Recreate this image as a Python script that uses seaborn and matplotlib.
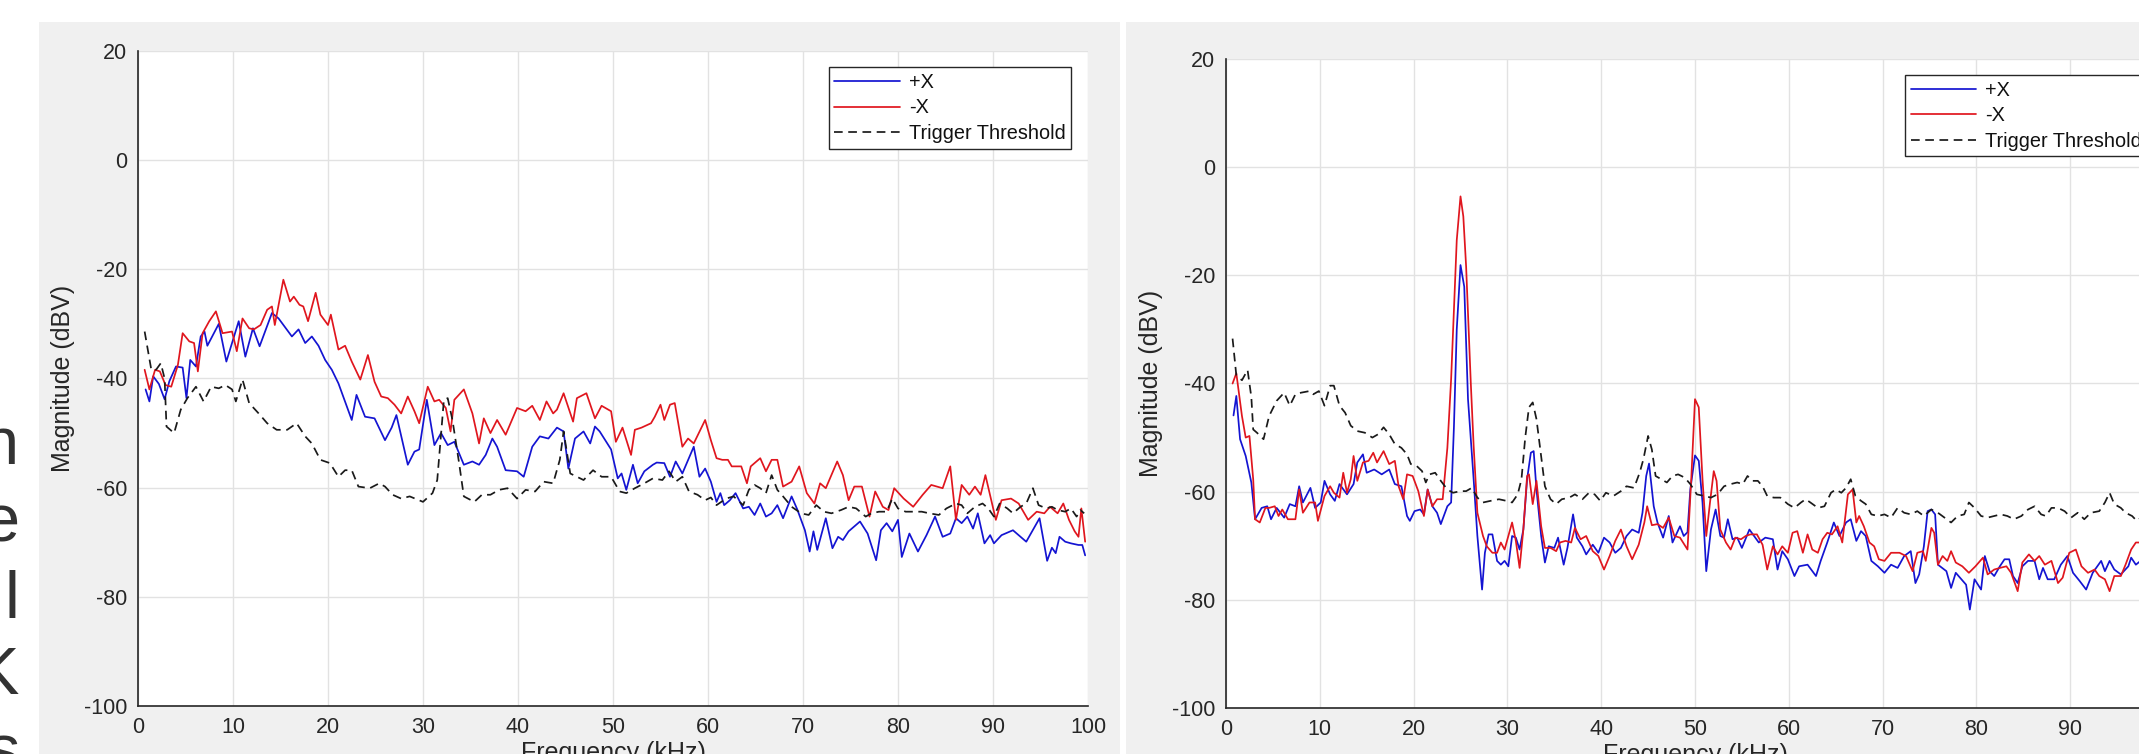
import numpy as np
import matplotlib
matplotlib.use("Agg")
import matplotlib.pyplot as plt
from matplotlib.patches import Rectangle
import seaborn as sns

# ================================
# DATA
# ================================
# left panel
a_pos_f = [0.8, 1.2, 1.6, 2.2, 2.8, 3.3, 4.0, 4.7, 5.1, 5.5, 6.1, 6.6, 7.0, 7.3, 8.5, 9.3, 10.6, 11.3, 12.1, 12.8,
           14.1, 14.8, 16.2, 16.9, 17.6, 18.3, 19.0, 19.7, 20.4, 21.1, 22.5, 23.0, 23.9, 24.9, 26.0, 26.7, 27.2, 28.4,
           29.1, 29.6, 30.4, 31.2, 31.9, 32.6, 33.3, 34.3, 35.2, 35.9, 36.6, 37.3, 37.8, 38.7, 39.9, 40.6, 41.5, 42.3,
           43.2, 44.1, 44.8, 45.3, 46.0, 46.9, 47.6, 48.1, 48.6, 49.8, 50.5, 50.9, 51.4, 52.1, 52.6, 53.3, 54.2, 54.6,
           55.4, 56.0, 56.6, 57.3, 58.5, 59.1, 59.7, 60.3, 60.9, 61.3, 61.7, 62.3, 62.9, 63.7, 64.3, 64.9, 65.5, 66.1,
           66.7, 67.3, 67.9, 68.8, 69.4, 70.2, 70.7, 71.1, 71.5, 72.4, 73.1, 73.7, 74.2, 74.8, 76.0, 76.8, 77.7, 78.2,
           78.8, 79.4, 80.0, 80.4, 81.2, 82.1, 83.0, 83.9, 84.7, 85.5, 86.1, 86.7, 87.3, 87.9, 88.4, 89.1, 89.7, 90.1,
           90.9, 92.1, 93.5, 94.9, 95.7, 96.2, 96.6, 97.0, 97.6, 98.2, 99.0, 99.4, 99.7]
a_pos_db = [-42, -44.2, -39.6, -41, -43.8, -40.5, -37.8, -38, -43.6, -36.6, -37.8, -32.3, -31.4, -34, -30, -36.9, -29.5,
            -36, -30.8, -34.1, -28, -29, -32.3, -31, -33.5, -32.3, -34, -36.6, -38.4, -40.9, -47.6, -43, -47, -47.3,
            -51.3, -49, -46.7, -55.8, -53.4, -53, -43.9, -52.2, -50, -52.2, -51.6, -55.8, -55.2, -55.8, -54, -51, -52.5,
            -56.8, -57, -58, -52.5, -50.6, -51, -49, -49.7, -56.5, -51, -49.7, -51.9, -48.8, -49.7, -53, -58.3, -57.4,
            -60.4, -55.8, -59.2, -57, -55.8, -55.4, -55.5, -58, -55.2, -57.4, -52.5, -58, -56.5, -58.9, -62.6, -61,
            -63.2, -62.3, -61, -63.8, -63.5, -65, -62.9, -65.3, -64.7, -63.2, -65.6, -61.6, -64, -67.8, -71.7, -68,
            -71.4, -65.6, -71.1, -69, -69.6, -68, -66.2, -68.4, -73.3, -67.8, -66.5, -68, -65.9, -72.7, -68.4, -71.7,
            -68.7, -65.3, -69, -68.4, -65.6, -66.5, -65.3, -67.5, -64.7, -70.2, -68.7, -70.2, -68.7, -67.8, -69.9,
            -65.6, -73.4, -71, -72, -69, -69.9, -70.2, -70.5, -70.5, -72.4]

a_neg_f = [0.7, 1.2, 1.8, 2.3, 2.9, 3.5, 4.2, 4.7, 5.4, 5.9, 6.3, 6.8, 7.5, 8.2, 8.9, 9.9, 10.4, 11.0, 11.7, 12.2, 12.9,
           13.6, 14.1, 14.4, 15.3, 16.0, 16.4, 17.0, 17.4, 17.9, 18.7, 19.2, 20.0, 20.3, 21.1, 21.8, 22.5, 23.4, 24.2,
           24.9, 25.6, 26.3, 27.0, 27.7, 28.4, 29.1, 29.6, 30.5, 31.2, 31.7, 32.4, 32.9, 33.3, 34.3, 35.2, 35.9, 36.4,
           37.1, 37.8, 38.7, 39.9, 40.8, 41.5, 42.3, 43.0, 43.7, 44.1, 44.8, 45.8, 46.2, 47.2, 48.1, 48.8, 49.8, 50.3,
           51.0, 51.9, 52.3, 53.0, 54.0, 54.4, 55.0, 55.4, 56.0, 56.5, 57.3, 57.9, 58.5, 59.7, 60.3, 60.9, 61.5, 62.1,
           62.5, 63.5, 64.1, 64.5, 65.5, 66.1, 66.7, 67.3, 67.9, 68.8, 69.6, 70.4, 71.2, 71.8, 72.4, 73.6, 74.2, 74.8,
           75.4, 76.2, 77.0, 77.6, 78.4, 79.0, 79.6, 80.6, 81.6, 82.6, 83.5, 84.7, 85.5, 86.1, 86.7, 87.5, 88.1, 88.7,
           89.2, 90.3, 90.9, 91.9, 92.7, 93.7, 94.6, 95.4, 96.0, 96.8, 97.4, 98.0, 98.6, 99.0, 99.3, 99.7]
a_neg_db = [-38.4, -42, -38.4, -38.7, -41.2, -41.5, -37.5, -31.7, -33.2, -33.5, -38.7, -31.7, -29.5, -27.7, -31.7,
            -31.4, -35, -29, -30.8, -31, -30.2, -27.4, -26.8, -30.2, -21.9, -25.9, -25, -26.5, -26.8, -29.5, -24.3,
            -28.3, -30.2, -28.3, -34.7, -34, -36.9, -40.2, -35.7, -40.6, -43.3, -43.6, -44.8, -46.4, -43.3, -46, -48.2,
            -41.5, -44.2, -43.9, -45.4, -49.7, -43.9, -42, -46.4, -51.9, -47.3, -50, -47.6, -50.3, -45.4, -46, -45,
            -47.6, -44.2, -46.4, -45.7, -42.7, -47.9, -43.6, -42.7, -47.3, -45, -46, -51.6, -49, -54, -49.4, -49, -48.2,
            -47, -44.8, -47.6, -44.8, -44.5, -52.5, -51, -51.9, -47.6, -51.3, -54.6, -54.9, -54.9, -56.1, -56.1,
            -59.2, -56.1, -54.6, -57, -54.9, -54.9, -59.8, -58.9, -56.1, -61, -62.9, -59.2, -60.1, -55.2, -57.7,
            -62.3, -59.8, -59.8, -65.3, -60.7, -63.5, -64.1, -60.1, -62, -63.5, -61.3, -59.5, -60.1, -56.1, -65.9,
            -59.5, -61.3, -59.8, -61.3, -57.7, -65.9, -62.3, -62, -62.9, -65.9, -64.4, -64.7, -63.5, -64.7, -62.9,
            -65.9, -68, -69, -63.8, -69.9]

a_thr_f = [0.7, 1.4, 1.9, 2.4, 2.8, 3.0, 3.8, 4.5, 5.2, 6.1, 6.9, 7.7, 8.5, 9.2, 9.9, 10.3, 11.0, 11.7, 12.7, 13.6, 14.6,
           15.7, 16.7, 17.6, 18.3, 19.2, 20.2, 21.1, 21.8, 22.5, 23.2, 24.4, 25.4, 26.0, 26.8, 27.7, 28.6, 29.6, 30.0,
           31.0, 31.5, 32.2, 32.6, 33.1, 33.8, 34.3, 35.4, 36.2, 37.1, 38.0, 38.9, 39.9, 40.8, 41.8, 42.7, 43.7, 44.4,
           44.8, 45.5, 46.2, 46.9, 47.9, 48.8, 49.8, 50.7, 51.4, 52.3, 53.3, 54.2, 55.2, 55.9, 56.6, 57.3, 58.0, 58.9,
           59.7, 60.3, 60.9, 61.9, 62.7, 63.7, 64.3, 64.9, 65.5, 66.1, 66.7, 67.3, 67.9, 68.8, 69.8, 70.6, 71.4, 72.2,
           73.0, 74.0, 74.8, 75.6, 76.6, 77.2, 78.0, 78.8, 79.4, 80.0, 80.8, 81.6, 82.5, 83.3, 84.3, 85.1, 86.1, 86.7,
           87.3, 88.1, 88.9, 89.5, 90.1, 90.7, 91.5, 92.1, 92.9, 93.5, 94.2, 94.8, 95.6, 96.2, 96.8, 97.6, 98.2, 98.8,
           99.2, 99.6]
a_thr_db = [-31.4, -38.4, -38.4, -37.2, -40, -48.8, -50, -45.7, -43.6, -41.5, -44.2, -41.5, -41.8, -41.2, -42, -44.2,
            -40.2, -44.5, -46.4, -48.2, -49.4, -49.4, -48.2, -50.6, -51.9, -54.9, -55.5, -58, -56.8, -56.8, -59.8,
            -60.1, -59.2, -59.8, -61.3, -62, -61.6, -62.3, -62.6, -61, -58.6, -43.9, -43.6, -47.6, -55.5, -61.6, -62.6,
            -61.3, -61.3, -60.4, -60.1, -62, -60.4, -60.7, -58.9, -59.2, -54.9, -49.7, -57.4, -58, -58.6, -56.8, -58,
            -58, -60.7, -61, -60.1, -59.2, -58.3, -58.6, -57, -58.9, -58, -60.7, -61.3, -62.3, -61.8, -63.2, -62,
            -61.6, -63.2, -60.4, -59.5, -60.1, -61, -57.7, -60.4, -61.6, -63.5, -64.7, -65, -63.2, -64.4, -64.7,
            -64.1, -63.5, -63.8, -65.3, -64.7, -64.4, -64.4, -62, -63.8, -64.4, -64.4, -64.4, -64.7, -65, -63.8,
            -62.9, -63.2, -64.7, -63.5, -62.9, -63.8, -65.3, -62.9, -63.8, -64.7, -63.5, -62.9, -60.1, -63.2, -63.8,
            -63.5, -64.1, -64.4, -63.8, -65.3, -64.1, -64.7]

# right panel
b_pos_f = [0.8, 1.1, 1.5, 2.1, 2.7, 3.1, 3.8, 4.4, 4.8, 5.4, 5.8, 6.2, 6.8, 7.4, 7.8, 8.2, 9.0, 9.5, 10.1, 10.5, 11.1,
           11.6, 12.1, 12.9, 13.6, 14.0, 14.6, 15.0, 15.8, 16.6, 17.4, 18.0, 18.7, 19.3, 19.6, 20.1, 20.7, 21.1, 21.5,
           22.0, 22.5, 22.9, 23.6, 24.0, 24.3, 24.6, 25.0, 25.4, 25.8, 26.4, 26.8, 27.3, 27.6, 28.0, 28.4, 28.9, 29.3,
           29.7, 30.1, 30.5, 30.9, 31.3, 31.7, 32.1, 32.5, 32.8, 33.1, 33.6, 34.0, 34.4, 35.0, 35.4, 36.0, 36.4, 37.0,
           37.4, 38.0, 38.4, 39.1, 39.7, 40.3, 40.9, 41.5, 42.1, 42.7, 43.3, 44.0, 44.4, 44.8, 45.1, 45.6, 46.0, 46.6,
           47.2, 47.6, 48.4, 48.8, 49.2, 49.5, 50.0, 50.4, 50.8, 51.2, 51.7, 52.2, 52.7, 53.1, 53.5, 54.0, 54.5, 55.0,
           55.8, 56.3, 56.8, 57.5, 58.3, 58.8, 59.3, 59.9, 60.6, 61.1, 62.0, 62.9, 63.4, 64.1, 64.8, 65.4, 66.1, 66.6,
           67.2, 67.7, 68.2, 68.8, 69.5, 70.2, 70.9, 71.6, 72.3, 73.0, 73.5, 73.9, 74.4, 74.8, 75.2, 75.6, 75.9, 76.8,
           77.3, 77.8, 78.4, 78.9, 79.3, 79.8, 80.5, 80.9, 81.4, 81.9, 82.5, 83.0, 83.5, 83.9, 84.4, 84.9, 85.5, 86.2,
           86.7, 87.1, 87.6, 88.3, 89.0, 89.7, 90.3, 91.0, 91.7, 92.4, 93.3, 93.7, 94.2, 94.7, 95.4, 96.2, 96.5, 97.0,
           97.5, 98.2, 99.0, 99.7]
b_pos_db = [-45.9, -42.3, -50.3, -53.4, -58.3, -65.1, -63, -62.7, -65.1, -63, -63.9, -64.8, -62.3, -62.7, -59, -62,
            -59.3, -63, -62, -58, -60.5, -61.7, -58.6, -60.5, -58.6, -54.6, -53.1, -56.5, -55.9, -56.8, -55.9, -58.6,
            -59, -64.5, -65.4, -63.6, -63.3, -64.2, -59.6, -62.7, -63.9, -66, -62.7, -62, -48, -30, -18.1, -22.1, -42.9,
            -57.7, -68.2, -78.1, -71.3, -67.9, -67.9, -72.8, -73.5, -72.8, -73.8, -68.2, -68.5, -70.7, -67, -57.7,
            -52.8, -52.5, -59.6, -68.2, -73.1, -70.1, -70.4, -68.5, -73.5, -70.4, -64.2, -68.5, -70.1, -71.6, -69.8,
            -71.3, -68.5, -69.4, -71.3, -70.4, -68.2, -67, -67.6, -63.9, -57.1, -54.8, -62.7, -65.7, -68.5, -64.5,
            -69.4, -66.4, -68.2, -67.5, -59.6, -53.3, -54.3, -62, -74.7, -67, -63.3, -68.2, -68.5, -65.1, -68.8, -68.5,
            -70.4, -67, -68.2, -69.4, -68.5, -68.8, -74.4, -71, -72.5, -75.6, -73.8, -73.5, -75.6, -72.8, -69.4, -65.7,
            -68.2, -65.7, -65.1, -69.1, -67.3, -68.2, -72.8, -73.8, -75, -73.5, -74.1, -71.9, -71, -76.9, -75.3, -70.1,
            -63.6, -63.3, -64.2, -73.5, -74.7, -77.8, -75, -76.2, -77.2, -81.8, -76.2, -78.1, -71.9, -74.7, -75.6,
            -73.8, -72.5, -72.5, -75.6, -76.9, -73.8, -72.8, -72.8, -76.2, -74.1, -76.2, -76.2, -73.5, -71.9, -75,
            -76.5, -78.1, -75, -72.8, -74.7, -72.8, -74.4, -75.3, -73.8, -72.2, -73.5, -72.8, -73, -72.5, -73]

b_neg_f = [0.7, 1.1, 1.4, 1.7, 2.1, 2.5, 2.9, 3.1, 3.6, 4.2, 4.6, 5.2, 5.6, 6.0, 6.6, 7.4, 7.8, 8.2, 8.9, 9.5, 9.8, 10.5,
           11.1, 11.5, 12.1, 12.5, 12.9, 13.3, 13.6, 14.0, 14.6, 15.2, 15.7, 16.1, 16.8, 17.4, 18.0, 18.4, 18.9, 19.3,
           19.9, 20.5, 21.1, 21.5, 22.0, 22.5, 23.1, 23.6, 24.0, 24.6, 25.0, 25.3, 25.6, 26.1, 26.4, 26.8, 27.4, 27.8,
           28.4, 28.9, 29.3, 29.7, 30.1, 30.5, 30.9, 31.3, 31.7, 32.1, 32.3, 32.7, 33.1, 33.6, 34.0, 34.6, 35.2, 35.6,
           36.2, 36.8, 37.2, 37.8, 38.4, 39.1, 39.7, 40.3, 40.9, 41.5, 42.1, 42.7, 43.3, 44.0, 44.6, 44.9, 45.4, 46.0,
           46.6, 47.2, 47.8, 48.4, 49.2, 49.6, 50.0, 50.4, 50.8, 51.2, 51.6, 52.0, 52.3, 52.7, 53.3, 53.8, 54.3, 54.9,
           55.4, 55.9, 56.6, 57.2, 57.7, 58.3, 58.8, 59.3, 59.9, 60.4, 60.9, 61.5, 62.0, 62.5, 63.1, 63.6, 64.1, 64.6,
           65.2, 65.7, 66.3, 66.8, 67.2, 67.5, 68.0, 68.6, 69.1, 69.6, 70.2, 70.9, 71.8, 72.5, 73.2, 73.7, 74.3, 74.6,
           75.2, 75.5, 75.9, 76.4, 76.9, 77.3, 77.8, 78.5, 79.2, 79.9, 80.7, 81.2, 81.9, 82.5, 83.2, 83.7, 84.4, 84.9,
           85.6, 86.2, 86.7, 87.3, 88.0, 88.7, 89.2, 89.9, 90.6, 91.2, 91.9, 92.6, 93.1, 93.7, 94.2, 94.7, 95.4, 95.9,
           96.5, 97.0, 97.5, 98.2, 99.0, 99.7]
b_neg_db = [-40, -38.1, -42, -46, -50, -49.7, -57.7, -65.1, -65.7, -63, -63, -62.7, -64.5, -63.3, -65.1, -65.1, -59.6,
            -63.9, -62, -62, -65.4, -60.8, -59, -60.2, -61.1, -56.5, -60.2, -57.7, -53.4, -58, -54.6, -54.3, -52.8,
            -54.6, -52.5, -54.9, -54.3, -59, -61.4, -56.8, -57.1, -59.9, -64.5, -59.6, -62.7, -61.4, -61.4, -51.9,
            -39.2, -13.5, -5.4, -9.1, -18.4, -40, -51.5, -63.9, -68.2, -70.1, -71.3, -71.3, -69.4, -70.7, -68.2,
            -65.7, -69.1, -74.1, -67, -57.1, -56.8, -62.3, -58, -66.4, -70.4, -70.4, -71, -69.4, -69.1, -69.4, -66.7,
            -68.8, -68.2, -71, -71.9, -74.4, -71.9, -69.1, -67, -70.1, -72.5, -69.8, -65.7, -62.7, -66.2, -66, -66.7,
            -64.8, -68.2, -68.5, -70.7, -57.7, -42.9, -44.4, -57.7, -68.2, -62, -56.2, -58, -67, -69.4, -70.7, -68.5,
            -68.8, -68.2, -67.9, -67.9, -69.8, -74.4, -70.1, -71.6, -70.1, -71.3, -67.6, -67.3, -71.3, -67.9, -70.7,
            -71.3, -68.8, -67.6, -67.9, -66.4, -69.4, -60.5, -59.6, -65.7, -64.5, -66.4, -69.4, -70.1, -72.5, -72.8,
            -71.3, -71.3, -71.9, -74.7, -71.3, -71, -72.8, -66.7, -67.6, -73.5, -71.9, -72.8, -71, -73.1, -73.8, -75,
            -73.8, -72.2, -75.3, -74.4, -74.1, -73.8, -75, -78.4, -73.1, -71.6, -72.8, -71.9, -73.5, -72.8, -76.9,
            -75.9, -71.3, -70.7, -73.8, -75, -74.4, -75.6, -76.2, -78.4, -75.6, -75.6, -73.5, -70.7, -69.4, -69.4,
            -71, -70, -72]

b_thr_f = [0.7, 1.1, 1.7, 2.3, 2.7, 2.9, 3.3, 4.0, 4.6, 5.4, 6.2, 6.8, 7.4, 8.0, 8.9, 9.3, 9.9, 10.5, 11.1, 11.5, 12.1,
           12.7, 13.3, 14.0, 14.8, 15.6, 16.2, 16.8, 17.4, 18.0, 18.7, 19.3, 19.7, 20.3, 20.9, 21.3, 21.7, 22.3, 22.9,
           23.6, 24.2, 25.0, 25.6, 26.2, 26.8, 27.4, 28.2, 29.1, 29.9, 30.5, 31.1, 31.5, 31.9, 32.3, 32.7, 33.1, 33.6,
           34.0, 34.6, 35.2, 35.8, 36.6, 37.2, 38.0, 38.7, 39.3, 39.9, 40.5, 41.3, 42.1, 42.7, 43.5, 44.1, 44.5, 45.0,
           45.4, 45.8, 46.4, 47.0, 47.6, 48.2, 48.9, 49.5, 50.2, 51.0, 51.7, 52.4, 53.1, 53.8, 54.5, 55.1, 55.6, 56.1,
           56.7, 57.2, 57.7, 58.4, 59.1, 59.9, 60.6, 61.3, 61.8, 62.3, 63.1, 63.8, 64.5, 65.0, 65.6, 66.1, 66.6, 67.1,
           67.7, 68.2, 68.8, 69.5, 70.2, 70.9, 71.6, 72.3, 73.0, 73.7, 74.4, 75.2, 75.9, 76.6, 77.3, 78.0, 78.7, 79.2,
           79.8, 80.5, 81.2, 81.9, 82.6, 83.3, 84.0, 84.8, 85.5, 86.2, 86.9, 87.4, 88.0, 88.7, 89.4, 90.1, 90.8, 91.5,
           92.2, 93.1, 93.7, 94.2, 94.7, 95.4, 95.9, 96.6, 97.1, 97.8, 98.5, 99.2, 99.8]
b_thr_db = [-31.7, -38.5, -39.4, -37.5, -42.5, -48.5, -49.1, -50.3, -46, -43.2, -41.7, -44.1, -42, -41.7, -41.4, -42,
            -41.4, -44.1, -40.4, -40.4, -44.1, -45.4, -47.8, -48.8, -49.1, -50, -49.4, -48.1, -49.4, -51.2, -51.9,
            -53.1, -54.9, -55.2, -56.2, -58.3, -56.8, -56.5, -58, -59.6, -60.2, -59.9, -59.9, -59.3, -61.1, -62, -61.7,
            -61.4, -61.7, -62, -60.5, -57.7, -50, -44.4, -43.5, -46.6, -53.4, -59, -61.4, -62.3, -61.4, -61.1, -60.5,
            -61.4, -60.2, -60.5, -61.7, -60.2, -60.8, -59.9, -59, -59.3, -56.5, -54, -49.7, -52.2, -57.1, -57.7, -58.3,
            -57.1, -56.8, -57.4, -58.6, -60.5, -60.8, -61.1, -60.5, -59, -58.6, -58.3, -58.6, -57.1, -58, -58, -59,
            -60.8, -61.1, -61.1, -62.3, -63, -62, -61.4, -62, -63, -62.7, -60.2, -59.6, -60.2, -59.3, -57.7, -60.8,
            -61.7, -62.3, -64.2, -64.5, -64.2, -64.8, -63, -63.9, -64.2, -63.6, -64.5, -63.3, -63.9, -64.8, -65.7,
            -64.5, -64.2, -62, -63, -64.5, -64.8, -64.5, -64.2, -64.5, -65.1, -64.5, -63.3, -62.7, -64.2, -64.5, -63,
            -63, -63.6, -64.8, -63.9, -65.1, -63.9, -63.6, -62, -60.2, -62.3, -63, -63.9, -64.5, -65.4, -64.5, -65,
            -64.5, -65]

x_ticks = list(range(0, 101, 10))
y_ticks = list(range(-100, 21, 20))
legend_labels = ['+X', '-X', 'Trigger Threshold']

# ================================
# STYLE
# ================================
sns.set_style("white")
plt.rcParams['font.family'] = ['Liberation Sans', 'DejaVu Sans']
plt.rcParams['axes.unicode_minus'] = False

W, H = 2139, 754
fig = plt.figure(figsize=(W / 100, H / 100), dpi=100)
fig.patch.set_facecolor('white')

# grey MATLAB-style figure panels
for x0, x1 in [(39, 1120), (1126, 2139)]:
    fig.patches.append(Rectangle((x0 / W, 0), (x1 - x0) / W, (H - 22) / H,
                                 transform=fig.transFigure, facecolor='#f0f0f0',
                                 edgecolor='none', zorder=-10))

# clipped letters of neighbouring page text at the left edge
for ch, base in [('n', 464), ('e', 541), ('l', 618), ('K', 694), ('s', 772)]:
    fig.text(19 / W, (H - base) / H, ch, ha='right', va='baseline',
             fontsize=48, color='#333333')

C_POS = '#1414d2'
C_NEG = '#e0161e'
C_THR = '#1a1a1a'
DASH = (0, (5.0, 3.2))


def draw_panel(rect, series):
    ax = fig.add_axes(rect)
    ax.set_facecolor('white')
    for (f, v), color, ls, lab in zip(series, [C_POS, C_NEG, C_THR],
                                      ['-', '-', DASH], legend_labels):
        sns.lineplot(x=f, y=v, ax=ax, color=color, linewidth=1.25,
                     linestyle=ls, label=lab, estimator=None, sort=False)
    ax.set_xlim(0, 100)
    ax.set_ylim(-100, 20)
    ax.set_xticks(x_ticks)
    ax.set_yticks(y_ticks)
    ax.grid(True, color='#e2e2e2', linewidth=1.0)
    ax.set_axisbelow(True)
    for s in ['top', 'right']:
        ax.spines[s].set_visible(False)
    for s in ['left', 'bottom']:
        ax.spines[s].set_color('#262626')
        ax.spines[s].set_linewidth(1.2)
    ax.tick_params(direction='in', length=7, width=1.0, color='#262626',
                   labelcolor='#262626', labelsize=15.5)
    ax.tick_params(axis='x', pad=8)
    ax.tick_params(axis='y', pad=8)
    ax.set_xlabel('Frequency (kHz)', fontsize=18, color='#262626', labelpad=2)
    ax.set_ylabel('Magnitude (dBV)', fontsize=18, color='#262626', labelpad=6)
    leg = ax.legend(loc='upper right', bbox_to_anchor=(0.982, 0.975),
                    borderaxespad=0, frameon=True, fancybox=False,
                    framealpha=1, edgecolor='#262626', fontsize=14.3,
                    handlelength=3.3, handletextpad=0.45, labelspacing=0.34,
                    borderpad=0.27)
    leg.get_frame().set_linewidth(1.0)
    for t in leg.get_texts():
        t.set_color('#111111')
    return ax


ax_a = draw_panel([138 / W, (H - 706) / H, 950 / W, 655 / H],
                  [(a_pos_f, a_pos_db), (a_neg_f, a_neg_db), (a_thr_f, a_thr_db)])
ax_b = draw_panel([1226 / W, (H - 708) / H, 938 / W, 649 / H],
                  [(b_pos_f, b_pos_db), (b_neg_f, b_neg_db), (b_thr_f, b_thr_db)])

plt.savefig('out.png', dpi=100)
plt.close()
